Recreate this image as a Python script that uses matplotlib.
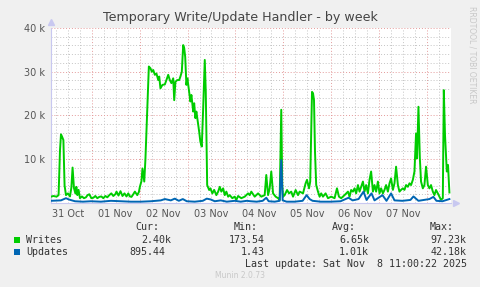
import datetime as dt
import matplotlib
matplotlib.use("Agg")
import matplotlib.pyplot as plt
from matplotlib.ticker import FuncFormatter

# graph start and span (hours)
t0 = dt.datetime(2025, 10, 31, 3, 38)
span_hours = 200.3

# Writes: hours since t0, value in k
writes_h = [0, 1.2, 2.8, 3.8, 4.5, 5.0, 5.5, 6.2, 6.8, 7.5, 8.5, 9.5, 10.2, 10.8, 11.5,
            12.2, 12.7, 13.2, 13.8, 14.5, 15.5, 16.5, 17.5, 18.3, 19.2, 20.2, 21.2, 22.2,
            23.2, 24.2, 25.2, 26.2, 27.2, 28.2, 29.2, 30.2, 31.2, 32.2, 32.8, 33.8, 34.8,
            35.8, 36.8, 37.8, 38.7, 39.5, 40.3, 41.2, 42.0, 43.2, 44.0, 44.5, 45.3, 45.8,
            46.7, 47.3, 48.2, 49.0, 49.8, 50.5, 51.2, 52.0, 52.8, 53.7, 54.2, 54.8, 55.8,
            57.0, 57.8, 58.7, 59.5, 60.3, 61.2, 61.7, 62.3, 63.2, 64.2, 64.8, 65.5, 66.2,
            66.7, 67.2, 67.8, 68.3, 69.2, 69.8, 70.3, 71.2, 71.7, 72.3, 72.8, 73.5, 74.2,
            74.8, 75.5, 76.2, 77.0, 77.5, 78.2, 79.2, 79.8, 80.8, 81.7, 82.8, 83.7, 84.5,
            85.3, 86.2, 87.0, 87.8, 88.7, 89.5, 90.8, 92.0, 92.8, 93.7, 95.3, 97.0, 98.7,
            99.5, 100.3, 102.0, 103.7, 105.3, 107.0, 107.8, 108.7, 109.5, 110.3, 111.2,
            112.5, 113.7, 114.5, 115.3, 115.8, 116.2, 117.0, 118.2, 119.2, 120.3, 121.2,
            122.5, 123.7, 124.5, 126.2, 127.5, 128.2, 129.2, 129.8, 130.7, 131.2, 131.7,
            132.2, 132.8, 133.7, 134.5, 135.3, 136.2, 137.5, 138.7, 140.3, 142.0, 143.2,
            144.2, 145.3, 147.0, 148.7, 149.5, 150.3, 151.2, 152.0, 152.8, 153.7, 154.5,
            155.3, 156.2, 157.0, 157.8, 158.7, 159.5, 160.3, 161.2, 162.0, 162.8, 163.7,
            164.5, 165.3, 166.2, 167.0, 167.8, 168.7, 169.5, 170.3, 171.2, 172.0, 172.8,
            173.7, 174.5, 175.3, 176.2, 177.0, 177.8, 178.7, 179.5, 180.3, 181.2, 182.0,
            182.8, 183.3, 184.0, 184.7, 185.3, 186.2, 187.0, 187.8, 188.7, 189.5, 190.3,
            191.2, 192.0, 192.8, 193.7, 194.5, 195.3, 196.2, 196.7, 197.3, 198.2, 198.8,
            199.5]
writes_k = [1.45, 1.6, 1.45, 1.8, 12.0, 15.7, 15.2, 14.4, 4.0, 1.8, 2.2, 1.5, 3.5, 8.1, 3.4,
            2.2, 3.7, 1.8, 3.0, 1.1, 1.5, 1.1, 1.3, 1.8, 2.0, 1.1, 1.2, 1.6,
            1.1, 1.4, 1.5, 1.1, 1.6, 1.3, 1.8, 2.2, 1.6, 2.0, 2.6, 1.7, 2.7,
            1.6, 2.2, 1.5, 2.2, 1.5, 1.4, 2.0, 2.6, 1.8, 2.5, 3.7, 5.0, 7.9,
            4.9, 10.2, 21.6, 31.2, 30.8, 30.0, 30.4, 29.3, 29.6, 28.1, 28.9, 26.2, 27.0,
            27.1, 28.1, 29.3, 28.1, 27.4, 28.5, 23.5, 27.7, 28.1, 28.1, 28.9, 30.0, 36.1,
            35.4, 33.4, 27.0, 28.5, 25.4, 23.2, 24.7, 20.9, 22.8, 19.4, 20.9, 18.6, 16.3,
            14.0, 12.9, 21.6, 32.7, 25.5, 4.1, 2.97, 3.35, 2.2, 3.0, 1.8, 2.6, 3.7,
            2.6, 3.35, 1.8, 2.6, 1.45, 1.8, 1.1, 1.45, 0.7, 1.6, 1.1, 1.45, 2.2,
            1.8, 2.6, 1.45, 2.2, 1.45, 1.8, 6.4, 1.8, 3.35, 7.2, 2.2,
            1.45, 1.1, 0.7, 21.3, 4.0, 1.45, 1.8, 2.97, 2.2, 2.6, 1.45,
            2.97, 1.8, 2.6, 2.2, 4.5, 5.3, 3.35, 4.9, 25.4, 25.1, 23.5,
            11.7, 4.1, 2.6, 1.45, 2.2, 1.45, 2.2, 1.1, 1.45, 1.1, 3.35,
            1.45, 1.1, 1.8, 2.6, 1.45, 2.97, 2.6, 3.35, 2.2, 4.1, 2.6,
            3.7, 4.9, 2.6, 4.1, 2.2, 5.3, 7.2, 2.6, 4.1, 2.6, 4.9,
            2.2, 3.35, 2.2, 3.0, 4.1, 2.6, 4.5, 5.6, 3.0, 4.5, 8.3,
            4.1, 2.6, 3.0, 3.35, 3.0, 4.1, 3.7, 4.5, 4.1, 5.3, 7.2,
            15.9, 10.2, 22.0, 10.2, 4.9, 3.35, 4.1, 8.3, 4.1, 3.35, 4.1,
            2.6, 1.8, 2.97, 2.2, 1.45, 0.7, 1.1, 25.8, 15.5, 7.2, 8.7,
            2.4]

# Updates: hours since t0, value in k
updates_h = [0, 5, 7.5, 9, 12, 16, 20, 25, 30, 35, 40, 45, 50, 55, 57, 60, 62, 64, 66, 68,
             72, 76, 78, 80, 82, 85, 88, 92, 95, 98, 100, 103, 106, 107.8, 109, 112, 114.5,
             115.3, 116, 118, 122, 126, 128, 129.5, 131, 135, 140, 145, 149, 151, 154,
             156.5, 158, 160.5, 162, 166, 168, 170.3, 172, 176, 180, 181.5, 184, 189.5,
             191.5, 193, 196, 199.5]
updates_k = [0.5, 0.6, 1.1, 0.8, 0.4, 0.3, 0.4, 0.3, 0.5, 0.4, 0.3, 0.3, 0.4, 0.6, 0.9, 0.6,
             1.0, 0.5, 0.9, 0.4, 0.3, 0.5, 1.0, 0.8, 0.4, 0.6, 0.3, 0.5, 0.3, 0.5, 0.4, 0.3,
             0.5, 1.2, 0.4, 0.3, 0.5, 9.8, 0.6, 0.3, 0.3, 0.5, 1.8, 0.9, 0.5, 0.3, 0.3, 0.4,
             1.2, 0.6, 0.9, 2.6, 0.7, 2.2, 0.6, 1.8, 0.5, 2.2, 0.6, 0.5, 0.7, 1.5, 0.5, 0.9,
             1.4, 0.5, 0.4, 0.9]

day_labels = ["31 Oct", "01 Nov", "02 Nov", "03 Nov", "04 Nov", "05 Nov", "06 Nov", "07 Nov"]

legend_names = ["Writes", "Updates"]
legend_colors = ["#00cc00", "#0066b3"]
cur_vals = ["2.40k", "895.44"]
min_vals = ["173.54", "1.43"]
avg_vals = ["6.65k", "1.01k"]
max_vals = ["97.23k", "42.18k"]

W, H = 481, 287
def fx(x):
    return x / W
def fy(y):
    return 1 - y / H

fig = plt.figure(figsize=(W / 100, H / 100), dpi=100, facecolor="#f0f0f0")
ax = fig.add_axes([fx(51), fy(203), 400 / W, 175 / H])
ax.set_facecolor("white")

def to_time(hours):
    return [t0 + dt.timedelta(hours=h) for h in hours]

t_end = t0 + dt.timedelta(hours=span_hours)
ax.set_xlim(t0, t_end)
ax.set_ylim(0, 40000)

# grid: minor every 6 h / 2k, major every day / 10k
t = dt.datetime(2025, 10, 31, 6, 0)
while t < t_end:
    if t.hour == 0:
        ax.axvline(t, color="#e49a9a", lw=0.7, ls=(0, (1, 2)), zorder=1)
    else:
        ax.axvline(t, color="#c4c4c4", lw=0.7, ls=(0, (1, 2)), zorder=1)
    t += dt.timedelta(hours=6)
for v in range(2000, 40001, 2000):
    if v % 10000 == 0:
        ax.axhline(v, color="#e49a9a", lw=0.7, ls=(0, (1, 2)), zorder=1)
    else:
        ax.axhline(v, color="#c4c4c4", lw=0.7, ls=(0, (1, 2)), zorder=1)

ax.plot(to_time(writes_h), [v * 1000 for v in writes_k], color=legend_colors[0], lw=1.4, zorder=3)
ax.plot(to_time(updates_h), [v * 1000 for v in updates_k], color=legend_colors[1], lw=1.4, zorder=4)

noons = [dt.datetime(2025, 10, 31, 12) + dt.timedelta(days=i) for i in range(len(day_labels))]
ax.set_xticks(noons)
ax.set_xticklabels(day_labels)
ax.set_yticks([10000, 20000, 30000, 40000])
ax.yaxis.set_major_formatter(FuncFormatter(lambda v, p: "%d k" % (v / 1000)))
ax.tick_params(length=0, labelsize=7, colors="#555555", pad=4)

for s in ["top", "right"]:
    ax.spines[s].set_visible(False)
ax.spines["left"].set_color("#c8c8f0")
ax.spines["bottom"].set_color("#c8c8f0")
ax.plot([0], [1.035], marker="^", color="#c8c8f0", ms=5, transform=ax.transAxes, clip_on=False)
ax.plot([1.012], [0], marker=">", color="#c8c8f0", ms=5, transform=ax.transAxes, clip_on=False)

fig.text(0.5, fy(18), "Temporary Write/Update Handler - by week", ha="center", va="center",
         fontsize=9.1, color="#444444")
fig.text(fx(472), fy(6), "RRDTOOL / TOBI OETIKER", rotation=270, ha="center", va="top",
         fontsize=5.5, color="#c8c8c8")

# legend table
mono = "DejaVu Sans Mono"
fs = 7.2
cw = 6.0
fig.text(fx(159.3), fy(227), "Cur:", ha="right", va="center", family=mono, fontsize=fs, color="#333333")
fig.text(fx(257.7), fy(227), "Min:", ha="right", va="center", family=mono, fontsize=fs, color="#333333")
fig.text(fx(356), fy(227), "Avg:", ha="right", va="center", family=mono, fontsize=fs, color="#333333")
fig.text(fx(454), fy(227), "Max:", ha="right", va="center", family=mono, fontsize=fs, color="#333333")
col_ends = [171.7, 271.0, 369.0, 466.7]
for i, name in enumerate(legend_names):
    y = 240 + 12 * i
    fig.patches.append(plt.Rectangle((fx(14), fy(y + 3)), 6 / W, 6 / H, transform=fig.transFigure,
                                     facecolor=legend_colors[i], edgecolor="none"))
    fig.text(fx(26), fy(y), name, ha="left", va="center", family=mono, fontsize=fs, color="#333333")
    for col, vals in zip(col_ends, [cur_vals, min_vals, avg_vals, max_vals]):
        s = vals[i]
        xe = col if s.endswith("k") else col - cw
        fig.text(fx(xe), fy(y), s, ha="right", va="center", family=mono, fontsize=fs, color="#333333")

fig.text(fx(466.7), fy(264), "Last update: Sat Nov  8 11:00:22 2025", ha="right", va="center",
         family=mono, fontsize=fs, color="#333333")
fig.text(fx(240), fy(276), "Munin 2.0.73", ha="center", va="center", fontsize=5.5, color="#c8c8c8")

fig.savefig("out.png", dpi=100, facecolor=fig.get_facecolor())
